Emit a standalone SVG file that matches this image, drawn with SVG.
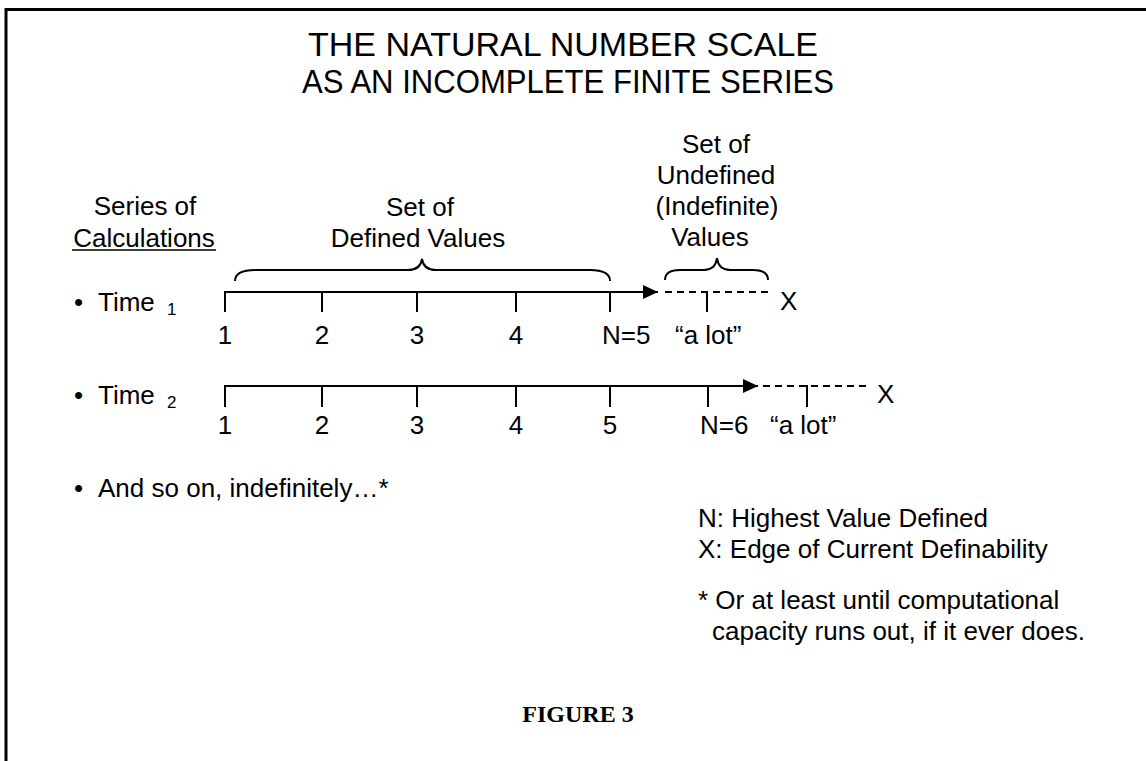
<svg xmlns="http://www.w3.org/2000/svg" width="1146" height="761" viewBox="0 0 1146 761">
<style>
text{font-family:"Liberation Sans",Arial,sans-serif;font-size:26px;fill:#000}
.t{font-size:33px}
.c{text-anchor:middle}
.sub{font-size:17px}
.fig{font-family:"Liberation Serif","Times New Roman",serif;font-weight:bold;font-size:24px}
.ln{stroke:#000;stroke-width:2;fill:none}
.dash{stroke:#000;stroke-width:2;fill:none;stroke-dasharray:7 5}
.br{stroke:#000;stroke-width:2;fill:none}
</style>
<defs>
<marker id="ah" viewBox="0 0 15 14" refX="15" refY="7" markerWidth="15" markerHeight="14" markerUnits="userSpaceOnUse" orient="auto">
<path d="M0,0 L15,7 L0,14 Z" fill="#000"/>
</marker>
</defs>
<g id="frame">
<path d="M6,761 L6,9.5 L1146,9.5" stroke="#000" stroke-width="3" fill="none"/>
</g>
<g id="title">
<text class="t c" x="563" y="56" textLength="510" lengthAdjust="spacingAndGlyphs">THE NATURAL NUMBER SCALE</text>
<text class="t c" x="568" y="93" textLength="532" lengthAdjust="spacingAndGlyphs">AS AN INCOMPLETE FINITE SERIES</text>
</g>
<g id="series-label">
<text class="c" x="145" y="215">Series of</text>
<text class="c" x="144" y="247">Calculations</text>
<line x1="72" y1="250" x2="216" y2="250" stroke="#000" stroke-width="1.5"/>
</g>
<g id="defined-label">
<text class="c" x="420" y="216">Set of</text>
<text class="c" x="418" y="247">Defined Values</text>
</g>
<g id="undefined-label">
<text class="c" x="716" y="153">Set of</text>
<text class="c" x="716" y="184">Undefined</text>
<text class="c" x="717" y="215">(Indefinite)</text>
<text class="c" x="710" y="246">Values</text>
</g>
<g id="braces">
<path class="br" d="M235,281 C235,273 242,270 255,270 L408,270 C416,270 421,266 422,259 C423,266 428,270 436,270 L590,270 C603,270 610,273 610,281"/>
<path class="br" d="M665,280 C665,273 670,270 680,270 L704,270 C712,270 716,266 717,258 C718,266 722,270 730,270 L753,270 C763,270 768,273 768,280"/>
</g>
<g id="time1">
<text x="74" y="311">•</text>
<text x="98" y="311">Time</text>
<text class="sub" x="167" y="315">1</text>
<g class="ticks">
<line class="ln" x1="225" y1="291" x2="225" y2="312"/>
<line class="ln" x1="322" y1="292" x2="322" y2="312"/>
<line class="ln" x1="417" y1="292" x2="417" y2="312"/>
<line class="ln" x1="516" y1="292" x2="516" y2="312"/>
<line class="ln" x1="610" y1="292" x2="610" y2="312"/>
<line class="ln" x1="707" y1="291" x2="707" y2="312"/>
</g>
<text class="c" x="225" y="344">1</text>
<text class="c" x="322" y="344">2</text>
<text class="c" x="417" y="344">3</text>
<text class="c" x="516" y="344">4</text>
<text x="602" y="344">N=5</text>
<text x="675" y="344">“a lot”</text>
<text x="780" y="310">X</text>
</g>
<g id="time2">
<text x="74" y="404">•</text>
<text x="98" y="404">Time</text>
<text class="sub" x="167" y="408">2</text>
<g class="ticks">
<line class="ln" x1="225" y1="385" x2="225" y2="407"/>
<line class="ln" x1="322" y1="386" x2="322" y2="407"/>
<line class="ln" x1="417" y1="386" x2="417" y2="407"/>
<line class="ln" x1="516" y1="386" x2="516" y2="407"/>
<line class="ln" x1="610" y1="386" x2="610" y2="407"/>
<line class="ln" x1="708" y1="386" x2="708" y2="407"/>
<line class="ln" x1="807" y1="385" x2="807" y2="407"/>
</g>
<text class="c" x="225" y="434">1</text>
<text class="c" x="322" y="434">2</text>
<text class="c" x="417" y="434">3</text>
<text class="c" x="516" y="434">4</text>
<text class="c" x="610" y="434">5</text>
<text x="700" y="434">N=6</text>
<text x="770" y="434">“a lot”</text>
<text x="877" y="403">X</text>
</g>
<g id="connectors">
<line class="ln" x1="224" y1="292" x2="658" y2="292" marker-end="url(#ah)"/>
<line class="dash" x1="665" y1="292" x2="770" y2="292"/>
<line class="ln" x1="224" y1="386" x2="758" y2="386" marker-end="url(#ah)"/>
<line class="dash" x1="763" y1="386" x2="868" y2="386"/>
</g>
<g id="and-so-on">
<text x="74" y="497">•</text>
<text x="98" y="497">And so on, indefinitely…*</text>
</g>
<g id="notes">
<text x="698" y="527">N: Highest Value Defined</text>
<text x="698" y="558">X: Edge of Current Definability</text>
<text x="698" y="609">* Or at least until computational</text>
<text x="712" y="640">capacity runs out, if it ever does.</text>
</g>
<g id="caption">
<text class="fig c" x="578" y="722">FIGURE 3</text>
</g>
</svg>
